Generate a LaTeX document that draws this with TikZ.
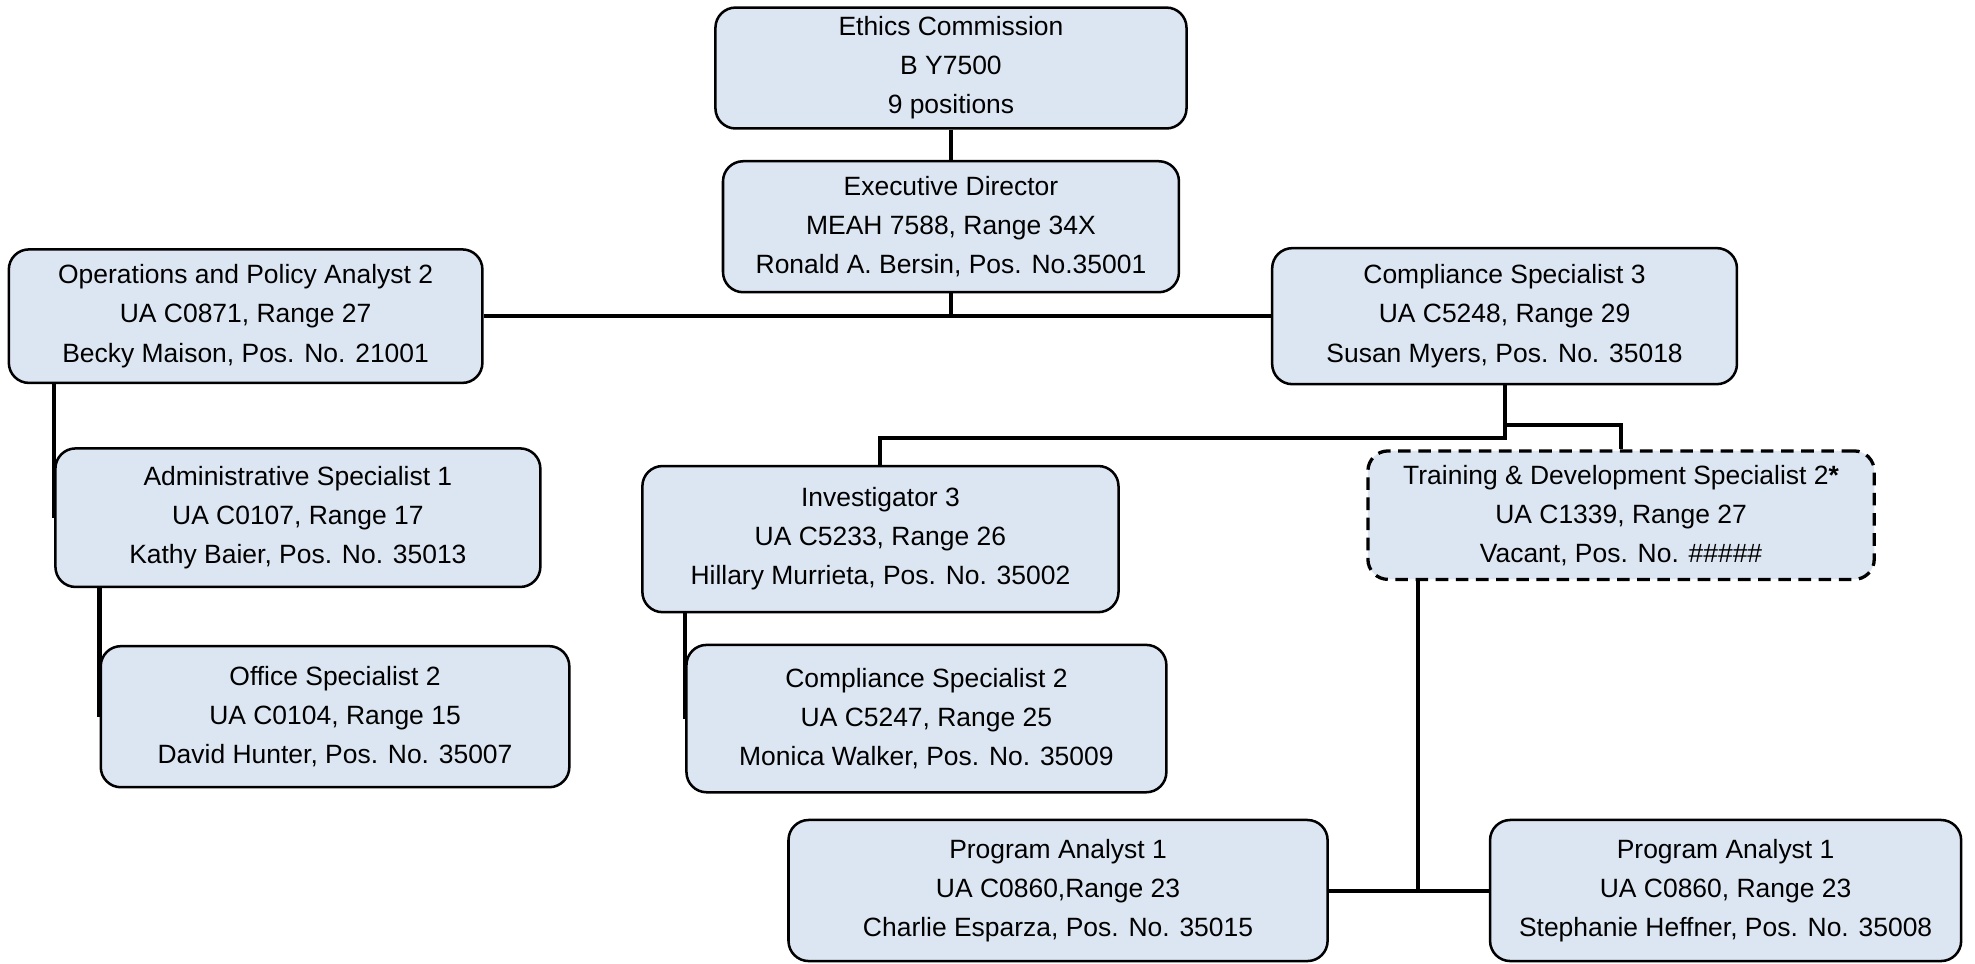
\documentclass[tikz,border=0pt]{standalone}
\usepackage{fontspec}
\setmainfont{Liberation Sans}
\definecolor{boxfill}{HTML}{DCE6F2}
\begin{document}
\begin{tikzpicture}[%
  x = 0.5pt, y = -0.5pt,
  postbox/.style = {draw, line width = 1pt, rounded corners = 8pt, fill = boxfill,
    align = center, inner sep = 0pt, font = \fontsize{10.5}{15.5}\selectfont},
  vacant/.style = {postbox, dash pattern = on 5pt off 3pt, line width = 1.3pt},
  link/.style = {line width = 1.6pt}]
  \useasboundingbox (0, 0) rectangle (1568, 765);

  \node[postbox, minimum width = 187pt, minimum height = 48pt] (ethics) at (755, 54)
    {Ethics Commission\\B Y7500\\9 positions};
  \node[postbox, minimum width = 181pt, minimum height = 52pt] (exec) at (755, 180)
    {Executive Director\\MEAH 7588, Range 34X\\Ronald A. Bersin, Pos. No.35001};
  \node[postbox, minimum width = 188pt, minimum height = 53pt] (ops) at (195, 251)
    {Operations and Policy Analyst 2\\UA C0871, Range 27\\Becky Maison, Pos. No. 21001};
  \node[postbox, minimum width = 184.5pt, minimum height = 54pt] (comp3) at (1194.5, 251)
    {Compliance Specialist 3\\UA C5248, Range 29\\Susan Myers, Pos. No. 35018};
  \node[postbox, minimum width = 192.5pt, minimum height = 55pt] (admin) at (236.5, 411)
    {Administrative Specialist 1\\UA C0107, Range 17\\Kathy Baier, Pos. No. 35013};
  \node[postbox, minimum width = 186pt, minimum height = 56pt] (office) at (266, 569)
    {Office Specialist 2\\UA C0104, Range 15\\David Hunter, Pos. No. 35007};
  \node[postbox, minimum width = 189pt, minimum height = 58pt] (inv3) at (699, 428)
    {Investigator 3\\UA C5233, Range 26\\Hillary Murrieta, Pos. No. 35002};
  \node[postbox, minimum width = 190.5pt, minimum height = 58.5pt] (comp2) at (735.5, 570.5)
    {Compliance Specialist 2\\UA C5247, Range 25\\Monica Walker, Pos. No. 35009};
  \node[vacant, minimum width = 201pt, minimum height = 51pt] (train) at (1287, 409)
    {Training \& Development Specialist 2\textbf{*}\\UA C1339, Range 27\\Vacant, Pos. No. \#\#\#\#\#};
  \node[postbox, minimum width = 214pt, minimum height = 56pt] (pa1a) at (840, 707)
    {Program Analyst 1\\UA C0860,Range 23\\Charlie Esparza, Pos. No. 35015};
  \node[postbox, minimum width = 187pt, minimum height = 56pt] (pa1b) at (1370, 707)
    {Program Analyst 1\\UA C0860, Range 23\\Stephanie Heffner, Pos. No. 35008};
  \coordinate (tj) at (1126, 707);

  \draw[link] (ethics.south) -- (exec.north);
  \draw[link] (exec.south) -- (exec.south |- ops.east);
  \draw[link] (ops.east) -- (comp3.west);
  \draw[link] (ops.south -| admin.west) -- (admin.west);
  \draw[link] (admin.south -| office.west) -- (office.west);
  \draw[link] (inv3.south -| comp2.west) -- (comp2.west);
  \draw[link] (comp3.south) |- ([yshift = 10.5pt]inv3.north) -- (inv3.north);
  \draw[link] (comp3.south) |- ([yshift = 9.5pt]train.north) -- (train.north);
  \draw[link] (train.south -| tj) -- (tj);
  \draw[link] (pa1a.east) -- (pa1b.west);
\end{tikzpicture}
\end{document}
